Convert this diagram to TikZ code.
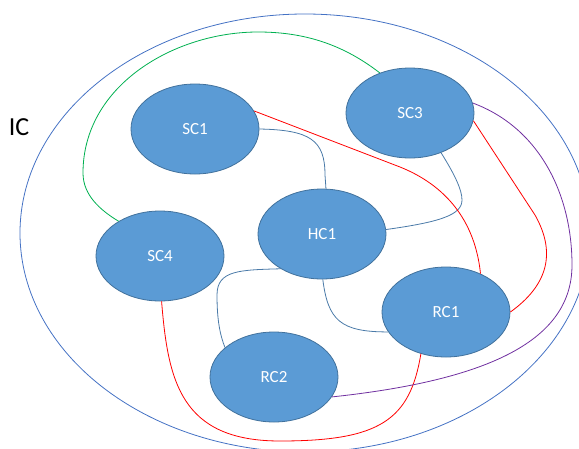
\documentclass[tikz,border=0pt]{standalone}
\usepackage{fontspec}
\setmainfont{Carlito}
\usetikzlibrary{shapes.geometric}
\definecolor{nodefill}{HTML}{5B9BD5}
\definecolor{nodeline}{HTML}{41719C}
\definecolor{linkblue}{HTML}{4A7AA8}
\definecolor{outerline}{HTML}{4472C4}
\definecolor{grnline}{HTML}{00B050}
\definecolor{prpline}{HTML}{7030A0}
\definecolor{redline}{HTML}{FF0000}
\tikzset{
  cnode/.style={ellipse, fill=nodefill, draw=nodeline, line width=0.8pt,
    minimum width=128pt, minimum height=90pt, inner sep=0pt, text=white,
    font=\fontsize{17}{20}\selectfont},
  bluelink/.style={draw=linkblue, line width=0.8pt},
  redlink/.style={draw=redline, line width=0.8pt},
  greenlink/.style={draw=grnline, line width=0.8pt},
  purplelink/.style={draw=prpline, line width=0.8pt},
}
\begin{document}
\begin{tikzpicture}[x=1pt,y=-1pt]
\useasboundingbox (0,0) rectangle (579,448);
\begin{scope}
\clip (0,0) rectangle (579,448);
\draw[outerline, line width=0.8pt] (305,233) ellipse [x radius=285, y radius=219];
\end{scope}
\node[font=\fontsize{26}{30}\selectfont, inner sep=0pt] (IClabel) at (19,127) {IC};

\node[cnode] (SC1) at (195,129) {SC1};
\node[cnode] (SC3) at (410,113) {SC3};
\node[cnode] (HC1) at (322,234) {HC1};
\node[cnode] (SC4) at (160,256) {SC4};
\node[cnode] (RC1) at (446,312) {RC1};
\node[cnode] (RC2) at (274,377) {RC2};

% green SC3 - SC4
\draw[greenlink] (SC3.127) .. controls (340,42) and (300,32) .. (258,32)
  .. controls (175,32) and (83,85) .. (83,173)
  .. controls (83,195) and (100,210) .. (SC4.140);
% blue links
\draw[bluelink] (SC1.0) .. controls (310,130) and (325,140) .. (325,175) -- (HC1.85);
\draw[bluelink] (SC3.-52) .. controls (455,175) and (462,190) .. (462,200)
  .. controls (462,215) and (440,222) .. (HC1.4);
\draw[bluelink] (HC1.-140) .. controls (240,270) and (217,270) .. (217,295)
  .. controls (217,320) and (220,335) .. (RC2.149);
\draw[bluelink] (HC1.-89) .. controls (328,320) and (340,332) .. (RC1.-161);
% red links
\draw[redlink] (SC1.17) -- (400,167) .. controls (445,185) and (475,220) .. (RC1.48);
\draw[redlink] (SC3.-7) -- (535,215) .. controls (552,245) and (555,280) .. (RC1.0);
\draw[redlink] (SC4.-88) .. controls (168,380) and (180,441) .. (280,441)
  .. controls (380,441) and (410,420) .. (RC1.-121);
% purple SC3 - RC2
\draw[purplelink] (SC3.9) .. controls (540,128) and (572,195) .. (572,265)
  .. controls (572,340) and (490,380) .. (RC2.-19);
\end{tikzpicture}
\end{document}
